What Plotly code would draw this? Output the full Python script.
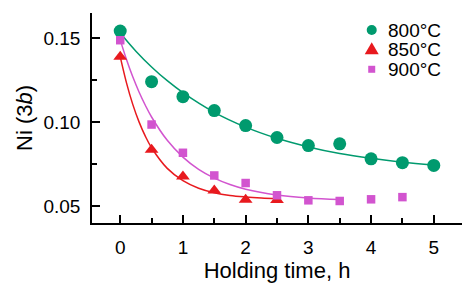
import plotly.graph_objects as go

# ---- data ----
t_800 = [0, 0.5, 1, 1.5, 2, 2.5, 3, 3.5, 4, 4.5, 5]
ni_800 = [0.1543, 0.1241, 0.1152, 0.1069, 0.0980, 0.0909, 0.0861, 0.0871, 0.0782, 0.0759, 0.0743]

t_850 = [0, 0.5, 1, 1.5, 2, 2.5]
ni_850 = [0.1389, 0.0836, 0.0677, 0.0594, 0.0539, 0.0537]

t_900 = [0, 0.5, 1, 1.5, 2, 2.5, 3, 3.5, 4, 4.5]
ni_900 = [0.1488, 0.0986, 0.0818, 0.0683, 0.0638, 0.0565, 0.0535, 0.0531, 0.0541, 0.0554]

# fitted curves
fit_t_800 = [0, 0.25, 0.5, 0.75, 1, 1.5, 2, 2.5, 3, 3.5, 4, 4.5, 5]
fit_ni_800 = [0.1531, 0.1423, 0.1329, 0.1247, 0.1176, 0.1059, 0.0971, 0.0904, 0.0853, 0.0814, 0.0785, 0.0762, 0.0745]

fit_t_850 = [0, 0.1, 0.2, 0.3, 0.4, 0.5, 0.75, 1, 1.25, 1.5, 1.75, 2, 2.25, 2.5]
fit_ni_850 = [0.1390, 0.1234, 0.1106, 0.1002, 0.0917, 0.0848, 0.0725, 0.0652, 0.0607, 0.0580, 0.0564, 0.0555, 0.0549, 0.0545]

fit_t_900 = [0, 0.1, 0.2, 0.3, 0.4, 0.5, 0.75, 1, 1.25, 1.5, 1.75, 2, 2.5, 3, 3.5]
fit_ni_900 = [0.1490, 0.1373, 0.1270, 0.1180, 0.1101, 0.1031, 0.0892, 0.0792, 0.0719, 0.0667, 0.0629, 0.0601, 0.0567, 0.0549, 0.0540]

labels = ["800°C", "850°C", "900°C"]
colors = ["#009A6E", "#E8191E", "#D254CF"]

FONT = "Liberation Sans, Arial, sans-serif"

fig = go.Figure()

fits = [(fit_t_800, fit_ni_800), (fit_t_850, fit_ni_850), (fit_t_900, fit_ni_900)]
for (fx, fy), c in zip(fits, colors):
    fig.add_trace(go.Scatter(x=fx, y=fy, mode="lines", line=dict(color=c, width=1.5, shape="spline"),
                             showlegend=False, hoverinfo="skip"))

pts = [(t_800, ni_800, "circle", 13), (t_850, ni_850, "triangle-up", 12), (t_900, ni_900, "square", 8.5)]
for (px, py, sym, sz), c, lab in zip(pts, colors, labels):
    fig.add_trace(go.Scatter(x=px, y=py, mode="markers", name=lab,
                             marker=dict(symbol=sym, size=sz, color=c, line=dict(width=0)),
                             showlegend=False))

# legend drawn as text + key shapes
leg_y = [0.919, 0.827, 0.732]
key_x = 0.756
annotations = []
shapes = []
for lab, c, yy in zip(labels, colors, leg_y):
    annotations.append(dict(x=0.795, y=yy, xref="paper", yref="paper", text=lab, showarrow=False,
                            xanchor="left", yanchor="middle", font=dict(family=FONT, size=19, color="black")))
shapes.append(dict(type="circle", xref="paper", yref="paper", xsizemode="pixel", ysizemode="pixel",
                   xanchor=key_x, yanchor=leg_y[0], x0=-5, x1=5, y0=-5, y1=5,
                   fillcolor=colors[0], line=dict(width=0)))
shapes.append(dict(type="path", xref="paper", yref="paper", xsizemode="pixel", ysizemode="pixel",
                   xanchor=key_x, yanchor=leg_y[1], path="M -7,-5 L 7,-5 L 0,7 Z",
                   fillcolor=colors[1], line=dict(width=0)))
shapes.append(dict(type="rect", xref="paper", yref="paper", xsizemode="pixel", ysizemode="pixel",
                   xanchor=key_x, yanchor=leg_y[2], x0=-3.5, x1=3.5, y0=-3.5, y1=3.5,
                   fillcolor=colors[2], line=dict(width=0)))

fig.update_layout(
    width=468, height=286,
    margin=dict(l=92, r=6, t=13, b=63),
    paper_bgcolor="white", plot_bgcolor="white",
    font=dict(family=FONT, size=19, color="black"),
    annotations=annotations, shapes=shapes,
    showlegend=False,
)
fig.update_xaxes(
    range=[-0.45, 5.45], tickmode="linear", tick0=0, dtick=1,
    ticks="inside", ticklen=8, tickwidth=1.5, tickcolor="black",
    showline=True, linecolor="black", linewidth=1.5, showgrid=False, zeroline=False,
    minor=dict(ticks="inside", dtick=0.5, tick0=0, ticklen=5, tickwidth=1.5, tickcolor="black", showgrid=False),
    tickfont=dict(size=19), ticklabelstandoff=6,
    title=dict(text="Holding time, h", font=dict(size=22), standoff=3),
)
fig.update_yaxes(
    range=[0.04, 0.165], tickmode="array", tickvals=[0.05, 0.10, 0.15], ticktext=["0.05", "0.10", "0.15"],
    ticks="inside", ticklen=8, tickwidth=1.5, tickcolor="black",
    showline=True, linecolor="black", linewidth=1.5, showgrid=False, zeroline=False,
    minor=dict(ticks="inside", tickvals=[0.075, 0.125], ticklen=5, tickwidth=1.5, tickcolor="black", showgrid=False),
    tickfont=dict(size=19), ticklabelstandoff=6,
    title=dict(text="Ni (3<i>b</i>)", font=dict(size=22), standoff=5),
)

fig.write_html("out.html")
